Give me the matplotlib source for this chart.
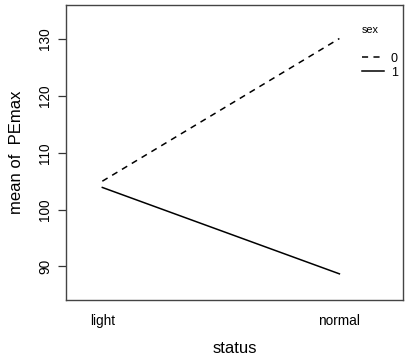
import matplotlib.pyplot as plt

plt.rcParams['font.family'] = ['Liberation Sans', 'DejaVu Sans']

status = ["light", "normal"]
sex_levels = ["0", "1"]
pemax_mean = {
    "0": [105.0, 130.1],
    "1": [103.9, 88.7],
}
line_styles = {"0": (0, (4, 3.5)), "1": "-"}

fig = plt.figure(figsize=(4.05, 3.57), dpi=100)
ax = fig.add_axes([0.1637, 0.1597, 0.8306, 0.8263])

xpos = [1, 2]
for s in sex_levels:
    ax.plot(xpos, pemax_mean[s], color='black', lw=1.1, linestyle=line_styles[s], label=s)

ax.set_xlim(0.848, 2.267)
ax.set_ylim(84.1, 136.0)
ax.set_yticks([90, 100, 110, 120, 130])
ax.set_yticklabels(["90", "100", "110", "120", "130"], rotation=90, va='center', fontsize=9.8)
ax.set_xticks(xpos)
ax.set_xticklabels(status, fontsize=9.8)
ax.tick_params(axis='x', length=0, pad=10)
ax.tick_params(axis='y', length=6, width=0.9, pad=4, color='#333333')
for sp in ax.spines.values():
    sp.set_color('#444444')
    sp.set_linewidth(1.0)

ax.set_xlabel("status", fontsize=12)
ax.xaxis.set_label_coords(0.5, -0.163)
ax.xaxis.label.set_va('center')
ax.set_ylabel("mean of  PEmax", fontsize=12)
ax.yaxis.set_label_coords(-0.1466, 0.5)
ax.yaxis.label.set_va('center')

ax.text(0.879, 0.915, "sex", transform=ax.transAxes, fontsize=7.8, va='center', ha='left')
ax.legend(loc='upper left', bbox_to_anchor=(0.879, 0.838),
          frameon=False, fontsize=9, handlelength=1.75, handletextpad=0.55,
          labelspacing=0.15, borderpad=0.0, borderaxespad=0.0)

fig.savefig("out.png", dpi=100)
